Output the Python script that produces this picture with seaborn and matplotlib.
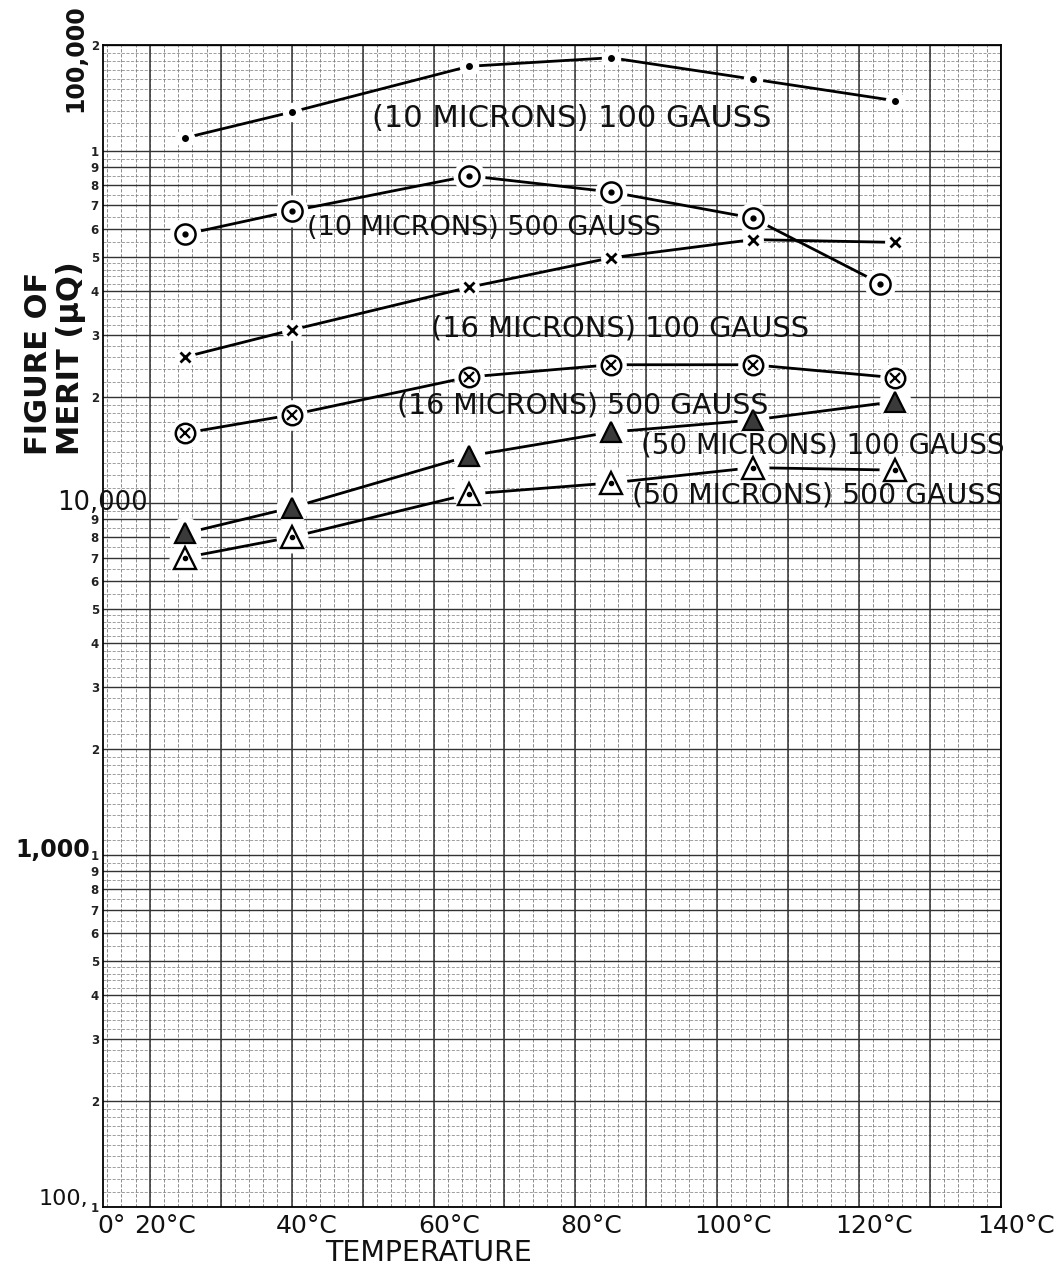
import numpy as np
import matplotlib
matplotlib.use("Agg")
import matplotlib.pyplot as plt
import matplotlib.transforms as mtransforms
import seaborn as sns

# ---------------- data ----------------
temps = [25, 40, 65, 85, 105, 125]
temps_10u_500g = [25, 40, 65, 85, 105, 123]
merit_10u_100g = [109000, 129000, 174000, 184000, 160000, 139000]
merit_10u_500g = [58000, 67500, 85000, 76500, 64500, 42000]
merit_16u_100g = [26000, 31000, 41000, 49700, 56000, 55000]
merit_16u_500g = [15800, 17800, 22800, 24700, 24700, 22700]
merit_50u_100g = [8200, 9700, 13600, 15900, 17200, 19400]
merit_50u_500g = [7000, 8000, 10600, 11400, 12600, 12400]

series_labels = [
    "(10 MICRONS) 100 GAUSS",
    "(10 MICRONS) 500 GAUSS",
    "(16 MICRONS) 100 GAUSS",
    "(16 MICRONS) 500 GAUSS",
    "(50 MICRONS) 100 GAUSS",
    "(50 MICRONS) 500 GAUSS",
]
x_tick_values = [13.4, 20, 40, 60, 80, 100, 120, 140]
x_tick_labels = ["0°", "20°C", "40°C", "60°C", "80°C", "100°C", "120°C", "140°C"]
y_decades = [100, 1000, 10000, 100000]
y_decade_labels = ["100,", "1,000", "10,000", "100,000"]

# ---------------- layout ----------------
label_pos = [(51.3, 123300), (42.1, 60400), (59.7, 31400),
             (54.9, 18970), (89.3, 14520), (88.0, 10470)]
label_size = [22, 19.5, 20.8, 20.4, 20, 20.4]

sns.set_theme(style="white")
plt.rcParams["font.family"] = ["DejaVu Sans"]

W, H = 1057, 1267
fig = plt.figure(figsize=(W / 100, H / 100), dpi=100)
ax = fig.add_axes([103 / W, (H - 1207) / H, 898 / W, 1162 / H])
ax.set_yscale("log")
ax.set_xlim(13.4, 140)
ax.set_ylim(100, 200000)

# ---------------- graph-paper grid ----------------
for t in np.arange(14, 141, 2):
    ax.axvline(t, color="#7a7a7a", lw=0.6, ls=(0, (4, 2)), zorder=0.5)
for t in range(20, 141, 10):
    ax.axvline(t, color="#333333", lw=1.1, zorder=0.6)
for d in y_decades:
    for k in range(1, 10):
        v = k * d
        if v <= 200000:
            ax.axhline(v, color="#333333", lw=1.0, zorder=0.6)
    for k in list(np.arange(1.1, 1.99, 0.1)) + list(np.arange(2.2, 4.99, 0.2)) + list(np.arange(5.5, 9.99, 0.5)):
        v = k * d
        if v < 200000:
            ax.axhline(v, color="#848484", lw=0.55, ls=(0, (4, 2)), zorder=0.5)

for s in ax.spines.values():
    s.set_visible(True)
    s.set_color("black")
    s.set_linewidth(1.3)

# ---------------- curves ----------------
line_kw = dict(color="black", linewidth=2.0, estimator=None, sort=False, zorder=2, ax=ax)
all_series = [
    (temps, merit_10u_100g),
    (temps_10u_500g, merit_10u_500g),
    (temps, merit_16u_100g),
    (temps, merit_16u_500g),
    (temps, merit_50u_100g),
    (temps, merit_50u_500g),
]
for xs, ys in all_series:
    sns.lineplot(x=xs, y=ys, **line_kw)

halo = dict(ls="none", marker="o", mfc="white", mec="white", zorder=3)
# 10 microns 100 gauss: small dots with gaps
ax.plot(temps, merit_10u_100g, ms=13, **halo)
ax.plot(temps, merit_10u_100g, ls="none", marker="o", ms=4, color="black", zorder=4)
# 10 microns 500 gauss: circle with centre dot
ax.plot(temps_10u_500g, merit_10u_500g, ms=22, **halo)
ax.plot(temps_10u_500g, merit_10u_500g, ls="none", marker="o", ms=14.5, mfc="white",
        mec="black", mew=1.8, zorder=4)
ax.plot(temps_10u_500g, merit_10u_500g, ls="none", marker="o", ms=3.5, color="black", zorder=5)
# 16 microns 100 gauss: x
ax.plot(temps, merit_16u_100g, ms=14, **halo)
ax.plot(temps, merit_16u_100g, ls="none", marker="x", ms=7, mew=2.0, color="black", zorder=4)
# 16 microns 500 gauss: circle with x
ax.plot(temps, merit_16u_500g, ms=21, **halo)
ax.plot(temps, merit_16u_500g, ls="none", marker="o", ms=14, mfc="white",
        mec="black", mew=1.8, zorder=4)
ax.plot(temps, merit_16u_500g, ls="none", marker="x", ms=7, mew=1.6, color="black", zorder=5)
# 50 microns 100 gauss: filled triangle
ax.plot(temps, merit_50u_100g, ms=22, **halo)
ax.plot(temps, merit_50u_100g, ls="none", marker="^", ms=15, mfc="#3a3a3a",
        mec="black", mew=1.6, zorder=4)
# 50 microns 500 gauss: open triangle with dot
ax.plot(temps, merit_50u_500g, ms=22, **halo)
ax.plot(temps, merit_50u_500g, ls="none", marker="^", ms=16, mfc="white",
        mec="black", mew=1.7, zorder=4)
ax.plot(temps, merit_50u_500g, ls="none", marker="o", ms=3, color="black", zorder=5)

# ---------------- series labels ----------------
for txt, (lx, ly), fs in zip(series_labels, label_pos, label_size):
    ax.text(lx, ly, txt, fontsize=fs, ha="left", va="center", color="#111111", zorder=6)

# ---------------- x axis ----------------
ax.set_xticks(x_tick_values, x_tick_labels)
ax.tick_params(axis="x", length=0, pad=5, labelsize=18, labelcolor="#111111")
for i, lab in enumerate(ax.get_xticklabels()):
    dx = 6 if i == 0 else 11
    lab.set_transform(lab.get_transform() +
                      mtransforms.ScaledTranslation(dx / 72, 0, fig.dpi_scale_trans))
ax.set_xlabel("TEMPERATURE", fontsize=20.5, color="#111111")
ax.xaxis.set_label_coords(0.363, -0.0275)

# ---------------- y axis ----------------
minor_vals, minor_labs = [], []
for d in y_decades:
    for k in range(1, 10):
        v = k * d
        if v <= 200000 and not (k == 1 and d == 10000):
            minor_vals.append(v)
            minor_labs.append(str(k))
ax.set_yticks([])
ax.set_yticks(minor_vals, minor_labs, minor=True)
ax.tick_params(axis="y", which="both", length=0, pad=3, labelsize=8.5, labelcolor="#222222")
for lab in ax.get_yticklabels(minor=True):
    lab.set_fontweight("bold")

ytr = mtransforms.blended_transform_factory(ax.transAxes, ax.transData)
ax.text(-0.016, y_decades[0] * 1.01, y_decade_labels[0], transform=ytr, ha="right",
        va="baseline", fontsize=16, color="#111111")
ax.text(-0.014, y_decades[1] * 1.03, y_decade_labels[1], transform=ytr, ha="right",
        va="center", fontsize=17, fontweight="bold", color="#111111")
ax.text(-0.051, y_decades[2], y_decade_labels[2], transform=ytr, ha="left",
        va="center", fontsize=18.5, color="#111111", zorder=6)
ax.text(-0.031, y_decades[3] * 1.84, y_decade_labels[3], transform=ytr, ha="center",
        va="center", rotation=90, fontsize=17, fontweight="bold", color="#111111",
        clip_on=False)

ax.set_ylabel("FIGURE OF\nMERIT (μQ)", fontsize=22, fontweight="bold", color="#111111")
ax.yaxis.label.set(rotation_mode="default", ha="center", va="center",
                   multialignment="left", linespacing=1.15)
ax.yaxis.set_label_coords(-0.0535, 0.7306)

fig.savefig("out.png", dpi=100, facecolor="white")
